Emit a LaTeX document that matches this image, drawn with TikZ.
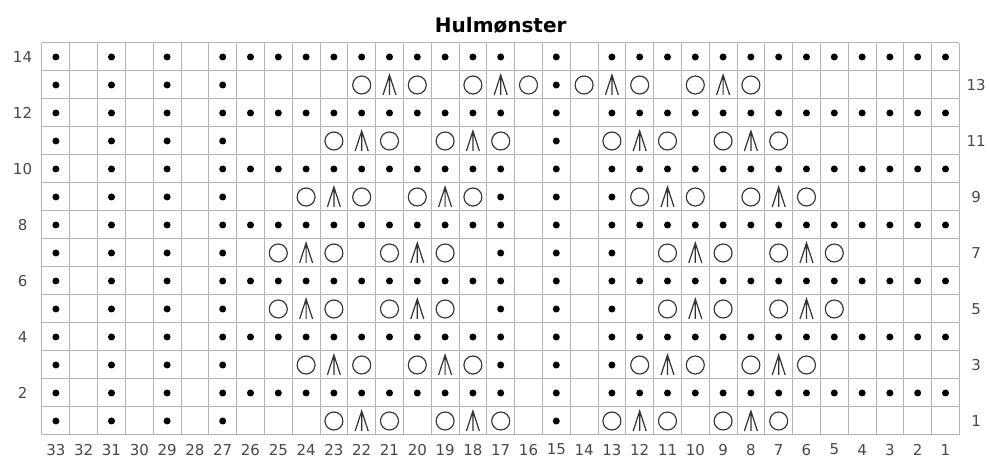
\documentclass[tikz,border=0pt]{standalone}
\usepackage{fontspec}
\setmainfont{DejaVu Sans}
\usepackage{xcolor}

\definecolor{gridgray}{HTML}{B4B4B4}
\definecolor{labelgray}{HTML}{484848}
\definecolor{symbolgray}{HTML}{333333}

\begin{document}
\begin{tikzpicture}[
    x=27.8pt, y=28pt,
    gridline/.style={draw=gridgray, line width=1pt},
    purl/.style={circle, fill=black, inner sep=0pt, minimum size=7pt},
    yarnover/.style={circle, draw=symbolgray, line width=1.15pt, inner sep=0pt, minimum size=18pt},
    symline/.style={draw=symbolgray, line width=1.2pt},
    sktwop/.pic={\draw[symline] (-6.5pt,-10pt) -- (0pt,10pt) -- (6.5pt,-10pt) (0pt,10pt) -- (0pt,-10pt);},
    numlabel/.style={font=\fontsize{15}{15}\selectfont, text=labelgray, inner sep=0pt},
    titlelabel/.style={font=\bfseries\fontsize{20}{20}\selectfont, text=black, inner sep=0pt},
]
    \useasboundingbox (-42pt,-23pt) rectangle (947pt,435pt);

    % Grid
    \foreach \i in {0,...,33}
        \draw[gridline] (\i,0) -- (\i,14);
    \foreach \j in {0,...,14}
        \draw[gridline] (0,\j) -- (33,\j);

    % Even rows: purl dots
    \foreach \r in {2,4,...,14} {
        \foreach \c in {33,31,29,27,26,25,24,23,22,21,20,19,18,17,15,13,12,11,10,9,8,7,6,5,4,3,2,1}
            \node[purl] (p-\c-\r) at (33.5-\c,\r-0.5) {};
    }

    % Odd rows: purl dots, yarn overs and double decreases
    \foreach \r/\a/\b/\plist in {1/22/12/{33,31,29,27,15}, 3/23/11/{33,31,29,27,17,15,13},
            5/24/10/{33,31,29,27,17,15,13}, 7/24/10/{33,31,29,27,17,15,13},
            9/23/11/{33,31,29,27,17,15,13}, 11/22/12/{33,31,29,27,15}, 13/21/13/{33,31,29,27,15}} {
        \foreach \c in \plist
            \node[purl] (p-\c-\r) at (33.5-\c,\r-0.5) {};
        \foreach \m in {\a,\b} {
            \foreach \o in {1,-1,-3,-5} {
                \pgfmathtruncatemacro{\c}{\m+\o}
                \node[yarnover] (o-\c-\r) at (33.5-\c,\r-0.5) {};
            }
            \foreach \o in {0,-4} {
                \pgfmathtruncatemacro{\c}{\m+\o}
                \pic (d-\c-\r) at (33.5-\c,\r-0.5) {sktwop};
            }
        }
    }

    % Row and stitch numbers
    \foreach \r in {2,4,...,14}
        \node[numlabel] (left-\r) at (-0.70,\r-0.5) {\r};
    \foreach \r in {1,3,...,13}
        \node[numlabel] (right-\r) at (33.6,\r-0.5) {\r};
    \foreach \c in {1,...,33}
        \node[numlabel] (bottom-\c) at (33.5-\c,-0.52) {\c};

    % Title
    \node[titlelabel, anchor=base] (title) at (16.5,14.36) {Hulmønster};

\end{tikzpicture}
\end{document}
